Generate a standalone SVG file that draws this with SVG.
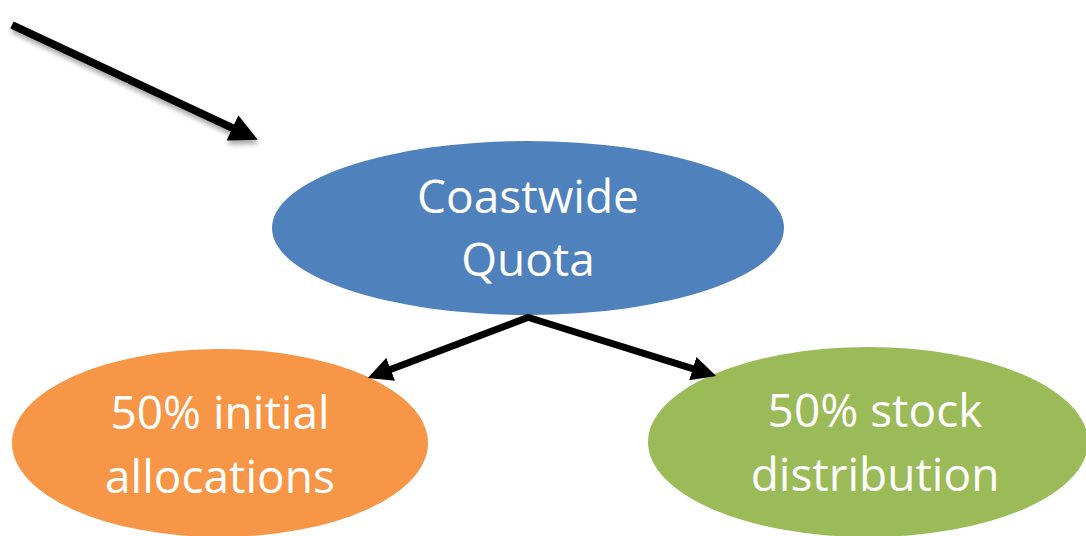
<svg xmlns="http://www.w3.org/2000/svg" width="1086" height="536" viewBox="0 0 1086 536">
  <style>
    .lbl { font-family: "Open Sans", "Noto Sans", "Liberation Sans", sans-serif; font-size: 46px; fill: #ffffff; text-anchor: middle; }
    .conn { stroke: #000000; fill: none; }
  </style>
  <defs>
    <marker id="head" viewBox="0 0 10 10" refX="3" refY="5" markerWidth="3.5" markerHeight="3.5" orient="auto" markerUnits="strokeWidth">
      <path d="M0,0 L10,5 L0,10 z" fill="#000000"/>
    </marker>
    <filter id="shadow" x="-20%" y="-20%" width="140%" height="160%">
      <feGaussianBlur in="SourceAlpha" stdDeviation="2.5"/>
      <feOffset dx="1" dy="4" result="b"/>
      <feComponentTransfer><feFuncA type="linear" slope="0.35"/></feComponentTransfer>
      <feMerge><feMergeNode/><feMergeNode in="SourceGraphic"/></feMerge>
    </filter>
  </defs>
  <rect width="1086" height="536" fill="#ffffff"/>

  <g id="node-coastwide">
    <ellipse cx="528" cy="228" rx="256" ry="87" fill="#4F81BD"/>
    <text class="lbl" x="528" y="213">Coastwide</text>
    <text class="lbl" x="528" y="276">Quota</text>
  </g>
  <g id="node-initial">
    <ellipse cx="220" cy="443" rx="208" ry="94" fill="#F79646"/>
    <text class="lbl" x="220" y="429">50% initial</text>
    <text class="lbl" x="220" y="493">allocations</text>
  </g>
  <g id="node-stock">
    <ellipse cx="868" cy="442" rx="220" ry="95" fill="#9BBB59"/>
    <text class="lbl" x="875" y="427">50% stock</text>
    <text class="lbl" x="875" y="491">distribution</text>
  </g>

  <g id="connectors">
    <line class="conn" x1="12" y1="25" x2="240" y2="131.5" stroke-width="8" marker-end="url(#head)" filter="url(#shadow)"/>
    <line class="conn" x1="529" y1="317" x2="383.8" y2="371.9" stroke-width="7" marker-end="url(#head)"/>
    <line class="conn" x1="527" y1="317" x2="699.8" y2="370.8" stroke-width="7" marker-end="url(#head)"/>
  </g>
</svg>
